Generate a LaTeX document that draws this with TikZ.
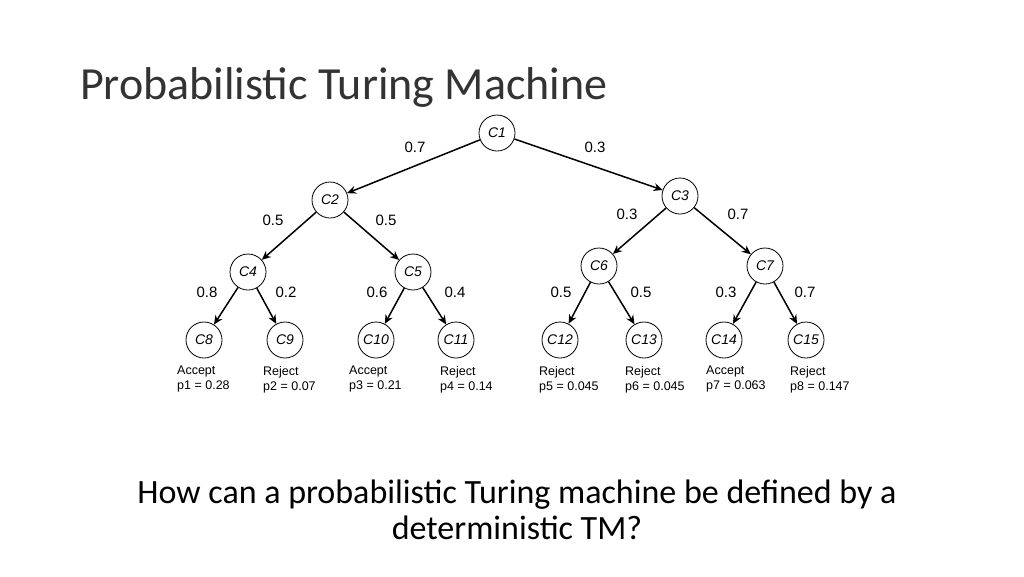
\documentclass[tikz,border=0pt]{standalone}
\usetikzlibrary{arrows.meta}
\usepackage{fontspec}
\setmainfont{Carlito}
\newfontfamily\arial{Liberation Sans}
\begin{document}
\begin{tikzpicture}[x=1pt,y=-1pt,
 cnode/.style={circle,draw,line width=0.8pt,minimum size=36pt,inner sep=0pt,font=\arial\itshape\fontsize{14}{15}\selectfont},
 edge/.style={-{Stealth[length=9pt,width=8pt]},line width=1.5pt},
 plab/.style={font=\arial\fontsize{15}{16}\selectfont},
 leaf/.style={font=\arial\fontsize{12.5}{15}\selectfont,align=left,anchor=north west,inner sep=0pt}]
\useasboundingbox (0,0) rectangle (1024,576);
\node[anchor=west,font=\fontsize{46}{50}\selectfont,text=black!80,inner sep=0pt] (title) at (80,87) {Probabilistic Turing Machine};
\node (c1) [cnode] at (497,133) {C1};
\node (c2) [cnode] at (330,200) {C2};
\node (c3) [cnode] at (680,196) {C3};
\node (c4) [cnode] at (248,272) {C4};
\node (c5) [cnode] at (413,272) {C5};
\node (c6) [cnode] at (599,266) {C6};
\node (c7) [cnode] at (765,266) {C7};
\node (c8) [cnode] at (204,340) {C8};
\node (c9) [cnode] at (285,340) {C9};
\node (c10) [cnode] at (376,340) {C10};
\node (c11) [cnode] at (456,340) {C11};
\node (c12) [cnode] at (560,340) {C12};
\node (c13) [cnode] at (644,340) {C13};
\node (c14) [cnode] at (724,340) {C14};
\node (c15) [cnode] at (806,340) {C15};
\foreach \a/\b in {c1/c2,c1/c3,c2/c4,c2/c5,c3/c6,c3/c7,c4/c8,c4/c9,c5/c10,c5/c11,c6/c12,c6/c13,c7/c14,c7/c15}
  \draw[edge] (\a) -- (\b);
\foreach \t/\x/\y [count=\i] in {0.7/415/147,0.3/595/147,0.5/273/220,0.5/386/220,0.3/627/214,0.7/738/214,0.8/207/292,0.2/286/292,0.6/377/292,0.4/455/292,0.5/561/292,0.5/641/292,0.3/726/292,0.7/805/292}
  \node[plab] (p\i) at (\x,\y) {\t};
\foreach \t/\p/\x [count=\i] in {Accept/p1 = 0.28/177,Reject/p2 = 0.07/263,Accept/p3 = 0.21/349,Reject/p4 = 0.14/440,Reject/p5 = 0.045/539,Reject/p6 = 0.045/625,Accept/p7 = 0.063/706,Reject/p8 = 0.147/790}
  \node[leaf] (l\i) at (\x,366) {\t\\\p};
\node[font=\fontsize{34}{36}\selectfont,align=center] (q) at (517,510) {How can a probabilistic Turing machine be defined by a\\deterministic TM?};
\end{tikzpicture}
\end{document}
